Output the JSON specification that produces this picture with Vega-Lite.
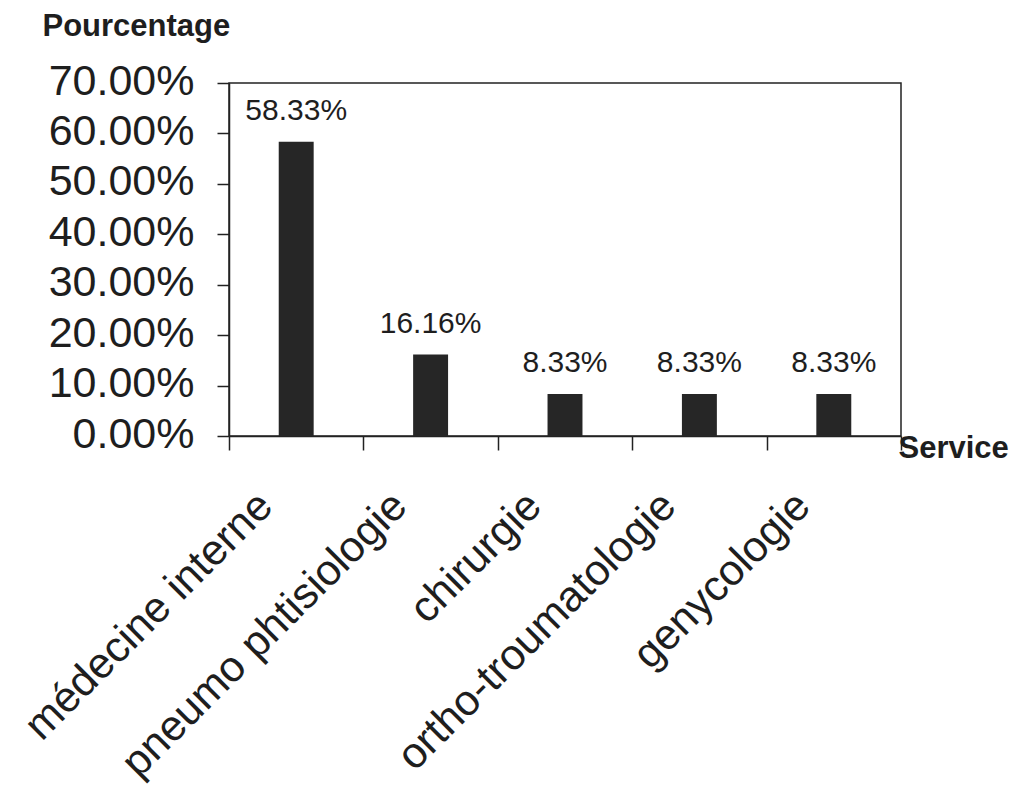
{
  "$schema": "https://vega.github.io/schema/vega-lite/v6.json",
  "autosize": {"type": "none"},
  "padding": {"left": 229, "top": 83, "right": 122, "bottom": 350},
  "width": 672,
  "height": 353,
  "background": "white",
  "config": {
    "font": "Liberation Sans",
    "view": {"stroke": "#222", "strokeWidth": 1.5},
    "axis": {
      "domainColor": "#222",
      "domainWidth": 1.5,
      "tickColor": "#222",
      "tickWidth": 1.5,
      "labelColor": "#1e1e1e",
      "titleColor": "#1e1e1e",
      "grid": false
    }
  },
  "data": {
    "values": [
      {"service": "médecine interne", "pct": 0.5833},
      {"service": "pneumo phtisiologie", "pct": 0.1616},
      {"service": "chirurgie", "pct": 0.0833},
      {"service": "ortho-troumatologie", "pct": 0.0833},
      {"service": "genycologie", "pct": 0.0833}
    ]
  },
  "encoding": {
    "x": {
      "field": "service",
      "type": "nominal",
      "sort": null,
      "scale": {"paddingInner": 0, "paddingOuter": 0},
      "axis": {
        "title": "Service",
        "titleFont": "Liberation Sans",
        "titleFontSize": 31,
        "titleFontWeight": "bold",
        "titleAngle": 0,
        "titleAlign": "left",
        "titleBaseline": "alphabetic",
        "titleX": 669,
        "titleY": 21,
        "tickBand": "extent",
        "tickSize": 14,
        "labelAngle": -45,
        "labelAlign": "right",
        "labelBaseline": "middle",
        "labelFontSize": 43,
        "labelOffset": -31,
        "labelPadding": 49,
        "labelLimit": 0,
        "labelOverlap": false
      }
    },
    "y": {
      "field": "pct",
      "type": "quantitative",
      "scale": {"domain": [0, 0.7], "nice": false},
      "axis": {
        "title": "Pourcentage",
        "titleFont": "Liberation Sans",
        "titleFontSize": 31,
        "titleFontWeight": "bold",
        "titleAngle": 0,
        "titleAlign": "left",
        "titleBaseline": "alphabetic",
        "titleX": -187,
        "titleY": -48,
        "values": [0, 0.1, 0.2, 0.3, 0.4, 0.5, 0.6, 0.7],
        "format": ".2%",
        "tickSize": 12,
        "labelFontSize": 43,
        "labelBaseline": "alphabetic",
        "labelOffset": 11,
        "labelPadding": 23,
        "labelFlush": false,
        "labelOverlap": false,
        "labelLimit": 0
      }
    }
  },
  "layer": [
    {"mark": {"type": "bar", "color": "#262626", "width": {"band": 0.26}}},
    {
      "mark": {"type": "text", "fontSize": 30, "baseline": "alphabetic", "dy": -22, "color": "#1e1e1e"},
      "encoding": {"text": {"field": "pct", "type": "quantitative", "format": ".2%"}}
    }
  ]
}
